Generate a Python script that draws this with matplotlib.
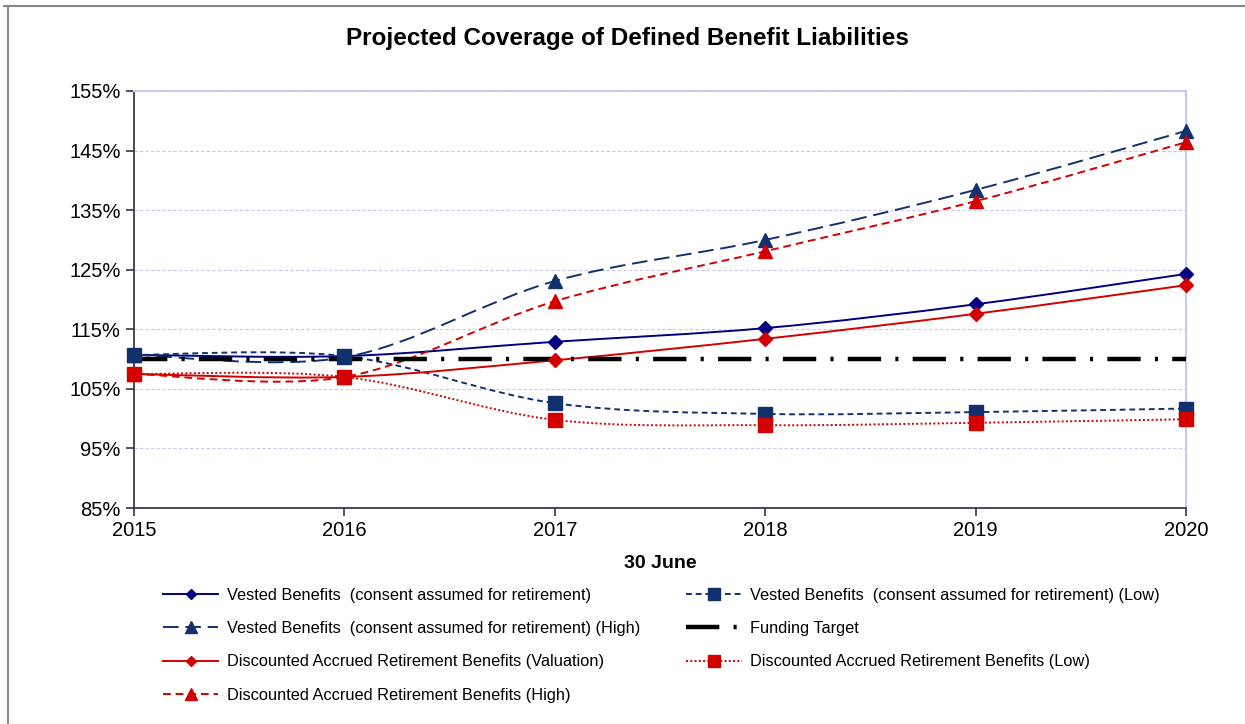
import numpy as np
import matplotlib.pyplot as plt
from matplotlib.path import Path
from matplotlib.patches import PathPatch
from matplotlib.lines import Line2D

years = [2015, 2016, 2017, 2018, 2019, 2020]

vested = [110.7, 110.5, 112.9, 115.2, 119.2, 124.3]
vested_low = [110.7, 110.5, 102.6, 100.8, 101.1, 101.7]
vested_high = [110.7, 110.3, 123.1, 130.0, 138.4, 148.3]
funding_target = [110.0, 110.0, 110.0, 110.0, 110.0, 110.0]
darb = [107.5, 107.0, 109.8, 113.4, 117.6, 122.4]
darb_low = [107.5, 107.0, 99.8, 98.9, 99.3, 99.9]
darb_high = [107.5, 107.0, 119.7, 128.1, 136.5, 146.4]

labels = [
    "Vested Benefits  (consent assumed for retirement)",
    "Vested Benefits  (consent assumed for retirement) (Low)",
    "Vested Benefits  (consent assumed for retirement) (High)",
    "Funding Target",
    "Discounted Accrued Retirement Benefits (Valuation)",
    "Discounted Accrued Retirement Benefits (Low)",
    "Discounted Accrued Retirement Benefits (High)",
]

NAVY = "#000080"
DNAVY = "#13306e"
RED = "#d40000"
FT_DASH = (0, (7.5, 3.2, 0.7, 3.2))

plt.rcParams['font.family'] = ['Liberation Sans', 'DejaVu Sans']


def smooth_path(xs, ys):
    # Excel-style smoothed line: cubic Bezier segments with Catmull-Rom tangents
    p = np.column_stack([xs, ys]).astype(float)
    n = len(p)
    verts = [p[0]]
    codes = [Path.MOVETO]
    for i in range(n - 1):
        p0 = p[i - 1] if i > 0 else p[i]
        p3 = p[i + 2] if i + 2 < n else p[i + 1]
        c1 = p[i] + (p[i + 1] - p0) / 6
        c2 = p[i + 1] - (p3 - p[i]) / 6
        verts += [c1, c2, p[i + 1]]
        codes += [Path.CURVE4] * 3
    return Path(verts, codes)


fig = plt.figure(figsize=(12.45, 7.24), dpi=100)
ax = fig.add_axes([134 / 1245, 1 - 508 / 724, (1186 - 134) / 1245, (508 - 91) / 724])

series = [
    (vested, NAVY, '-', 1.4, 'D', 7),
    (vested_low, DNAVY, (0, (3, 2)), 1.4, 's', 9.5),
    (vested_high, DNAVY, (0, (8, 3.5)), 1.4, '^', 9.5),
    (darb, RED, '-', 1.4, 'D', 7),
    (darb_low, RED, (0, (1, 1.2)), 1.4, 's', 9.5),
    (darb_high, RED, (0, (4, 2.5)), 1.4, '^', 9.5),
]

for vals, col, ls, lw, mk, ms in series:
    ax.add_patch(PathPatch(smooth_path(years, vals), fill=False, edgecolor=col,
                           linestyle=ls, linewidth=lw, zorder=3))
    ax.plot(years, vals, linestyle='none', marker=mk, markersize=ms,
            color=col, zorder=4, clip_on=False)

ax.plot(years, funding_target, color='black', linewidth=3.2,
        linestyle=FT_DASH, zorder=3)

ax.set_xlim(2015, 2020)
ax.set_ylim(85, 155)
ax.set_yticks(range(85, 156, 10))
ax.set_yticklabels([f"{v}%" for v in range(85, 156, 10)], fontsize=14.5)
ax.set_xticks(years)
ax.set_xticklabels([str(y) for y in years], fontsize=14.5)
ax.tick_params(axis='both', direction='out', length=6, width=1.2, color='#333344')
ax.tick_params(axis='x', pad=3)
ax.grid(axis='y', color='#c8c8f0', linestyle=(0, (3, 2)), linewidth=0.8)
for s in ('left', 'bottom'):
    ax.spines[s].set_color('#3a3a4a')
    ax.spines[s].set_linewidth(1.3)
for s in ('top', 'right'):
    ax.spines[s].set_color('#c8c8f5')
    ax.spines[s].set_linewidth(1.5)
ax.set_xlabel("30 June", fontsize=14, fontweight='bold', labelpad=11)

fig.text(0.504, 1 - 38 / 724, "Projected Coverage of Defined Benefit Liabilities",
         ha='center', va='center', fontsize=17.5, fontweight='bold')

# legend handles, ordered so column-wise filling reads row by row
h = {
    0: Line2D([], [], color=NAVY, lw=1.4, marker='D', ms=5.5),
    1: Line2D([], [], color=DNAVY, lw=1.4, ls=(0, (3, 2)), marker='s', ms=8),
    2: Line2D([], [], color=DNAVY, lw=1.4, ls=(0, (8, 3.5)), marker='^', ms=8),
    3: Line2D([], [], color='black', lw=3.2, ls=FT_DASH),
    4: Line2D([], [], color=RED, lw=1.4, marker='D', ms=5.5),
    5: Line2D([], [], color=RED, lw=1.4, ls=(0, (1, 1.2)), marker='s', ms=8),
    6: Line2D([], [], color=RED, lw=1.4, ls=(0, (4, 2.5)), marker='^', ms=8),
}
order = [0, 2, 4, 6, 1, 3, 5]
fig.legend([h[i] for i in order], [labels[i] for i in order], ncol=2,
           loc='upper left', bbox_to_anchor=(148 / 1245, 1 - 573 / 724),
           frameon=False, fontsize=11.8, handlelength=3.4, handletextpad=0.5,
           labelspacing=1.12, columnspacing=2.8)

# outer frame
fig.add_artist(Line2D([4 / 1245, 1], [1 - 6 / 724, 1 - 6 / 724], color='#888888', lw=1.5))
fig.add_artist(Line2D([8 / 1245, 8 / 1245], [0, 1 - 6 / 724], color='#888888', lw=1.5))

fig.savefig("out.png", dpi=100)
